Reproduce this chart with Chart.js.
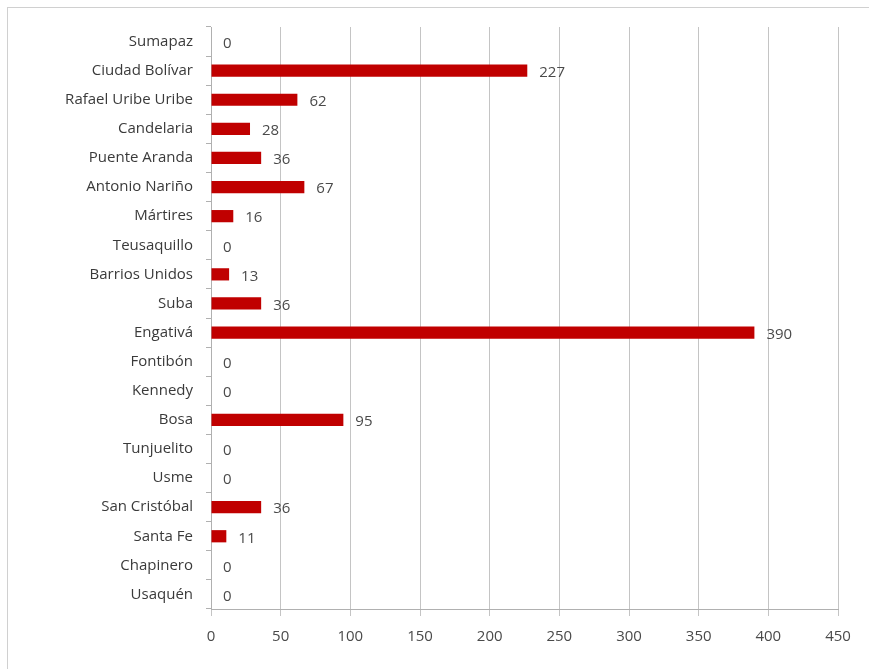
<!DOCTYPE html>
<html lang="es">
<head>
  <meta charset="UTF-8">
  <title>Localidades</title>
  <script src="https://cdn.jsdelivr.net/npm/chart.js"></script>
  <style>
    body { margin: 0; background: #fff; }
    #wrap { width: 869px; height: 669px; position: relative; }
  </style>
</head>
<body>
  <div id="wrap"><canvas id="barras"></canvas></div>
  <script>
    // categorias de arriba hacia abajo
    const localidades = [
      'Sumapaz', 'Ciudad Bolívar', 'Rafael Uribe Uribe', 'Candelaria', 'Puente Aranda',
      'Antonio Nariño', 'Mártires', 'Teusaquillo', 'Barrios Unidos', 'Suba',
      'Engativá', 'Fontibón', 'Kennedy', 'Bosa', 'Tunjuelito',
      'Usme', 'San Cristóbal', 'Santa Fe', 'Chapinero', 'Usaquén'
    ];
    const valores = [0, 227, 62, 28, 36, 67, 16, 0, 13, 36, 390, 0, 0, 95, 0, 0, 36, 11, 0, 0];
    const ejeX = [0, 50, 100, 150, 200, 250, 300, 350, 400, 450];

    const fuente = "'Open Sans', 'Noto Sans', sans-serif";
    const gris = '#3a3a3a';

    // etiquetas de valor al final de cada barra + borde exterior
    const extras = {
      id: 'extras',
      afterDatasetsDraw(chart) {
        const ctx = chart.ctx;
        const meta = chart.getDatasetMeta(0);
        ctx.save();
        ctx.font = '15px ' + fuente;
        ctx.fillStyle = '#4a4a4a';
        ctx.textAlign = 'left';
        ctx.textBaseline = 'middle';
        meta.data.forEach((bar, i) => {
          ctx.fillText(String(valores[i]), bar.x + 12, bar.y + 2);
        });
        ctx.restore();
      },
      afterDraw(chart) {
        const ctx = chart.ctx;
        ctx.save();
        ctx.strokeStyle = '#d0d0d0';
        ctx.lineWidth = 1;
        ctx.strokeRect(7.5, 7.5, 900, 700);
        ctx.restore();
      }
    };

    new Chart(document.getElementById('barras'), {
      type: 'bar',
      data: {
        labels: localidades,
        datasets: [{
          data: valores,
          backgroundColor: '#c00000',
          borderWidth: 0,
          categoryPercentage: 1,
          barPercentage: 0.42
        }]
      },
      options: {
        indexAxis: 'y',
        responsive: true,
        maintainAspectRatio: false,
        animation: false,
        layout: { padding: { left: 0, right: 31, top: 27, bottom: 0 } },
        plugins: {
          legend: { display: false },
          tooltip: { enabled: false }
        },
        scales: {
          x: {
            min: 0,
            max: 450,
            afterBuildTicks(axis) { axis.ticks = ejeX.map(v => ({ value: v })); },
            afterFit(axis) { axis.height = 60; },
            grid: { color: '#c4c4c4', tickLength: 7, lineWidth: 1 },
            border: { color: '#b0b0b0' },
            ticks: { color: '#4a4a4a', font: { family: fuente, size: 15 }, padding: 12 }
          },
          y: {
            afterFit(axis) { axis.width = 211; },
            grid: { drawOnChartArea: false, tickLength: 5, color: '#b0b0b0', offset: true },
            border: { color: '#b0b0b0' },
            ticks: { color: gris, font: { family: fuente, size: 15 }, padding: 13, autoSkip: false }
          }
        }
      },
      plugins: [extras]
    });
  </script>
</body>
</html>
